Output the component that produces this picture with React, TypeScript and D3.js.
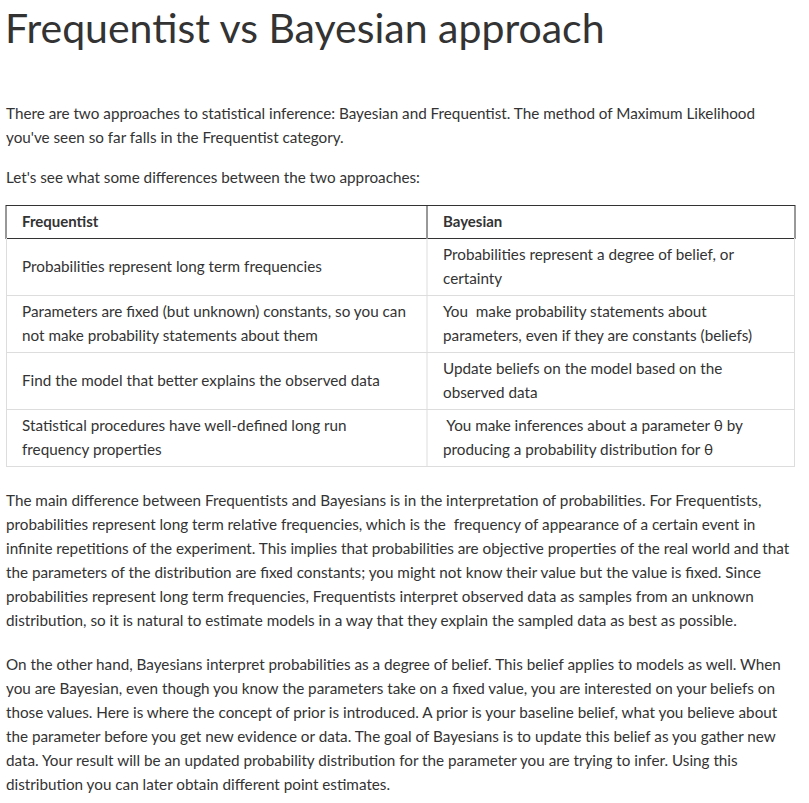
import React, { useRef, useEffect } from 'react';
import * as d3 from 'd3';

const title = 'Frequentist vs Bayesian approach';

const intro = [
  'There are two approaches to statistical inference: Bayesian and Frequentist. The method of Maximum Likelihood',
  "you've seen so far falls in the Frequentist category.",
];
const lead = "Let's see what some differences between the two approaches:";

const headers = ['Frequentist', 'Bayesian'];
const rowsLeft: string[][] = [
  ['Probabilities represent long term frequencies'],
  ['Parameters are fixed (but unknown) constants, so you can', 'not make probability statements about them'],
  ['Find the model that better explains the observed data'],
  ['Statistical procedures have well-defined long run', 'frequency properties'],
];
const rowsRight: string[][] = [
  ['Probabilities represent a degree of belief, or', 'certainty'],
  ['You  make probability statements about', 'parameters, even if they are constants (beliefs)'],
  ['Update beliefs on the model based on the', 'observed data'],
  [' You make inferences about a parameter θ by', 'producing a probability distribution for θ'],
];

const body1 = [
  'The main difference between Frequentists and Bayesians is in the interpretation of probabilities. For Frequentists,',
  'probabilities represent long term relative frequencies, which is the  frequency of appearance of a certain event in',
  'infinite repetitions of the experiment. This implies that probabilities are objective properties of the real world and that',
  'the parameters of the distribution are fixed constants; you might not know their value but the value is fixed. Since',
  'probabilities represent long term frequencies, Frequentists interpret observed data as samples from an unknown',
  'distribution, so it is natural to estimate models in a way that they explain the sampled data as best as possible.',
];
const body2 = [
  'On the other hand, Bayesians interpret probabilities as a degree of belief. This belief applies to models as well. When',
  'you are Bayesian, even though you know the parameters take on a fixed value, you are interested on your beliefs on',
  'those values. Here is where the concept of prior is introduced. A prior is your baseline belief, what you believe about',
  'the parameter before you get new evidence or data. The goal of Bayesians is to update this belief as you gather new',
  'data. Your result will be an updated probability distribution for the parameter you are trying to infer. Using this',
  'distribution you can later obtain different point estimates.',
];

const W = 809;
const H = 803;
const FONT = "'Source Sans Pro', Lato, 'Open Sans', sans-serif";
const INK = '#333';

export default function App() {
  const ref = useRef<SVGSVGElement>(null);

  useEffect(() => {
    const svg = d3.select(ref.current);
    svg.selectAll('*').remove();

    const lines = (ls: string[], x: number, y0: number, step = 24) =>
      ls.forEach((t, i) =>
        svg.append('text').attr('x', x).attr('y', y0 + i * step)
          .attr('fill', INK).style('font-family', FONT).style('font-size', '15.25px')
          .attr('xml:space', 'preserve').text(t));

    svg.append('text').attr('x', 5).attr('y', 43).attr('fill', INK)
      .style('font-family', FONT).style('font-size', '41px').style('font-weight', 400)
      .text(title);

    lines(intro, 6, 119);
    lines([lead], 6, 183);

    // table
    const left = 6, right = 795, mid = 427;
    const rowY = d3.range(5).map(i => 238 + i * 57);
    svg.append('rect').attr('x', left).attr('y', 205.5).attr('width', right - left).attr('height', 33)
      .attr('fill', 'none').attr('stroke', '#333');
    svg.append('line').attr('x1', mid).attr('x2', mid).attr('y1', 205).attr('y2', 238).attr('stroke', '#333');
    headers.forEach((h, i) =>
      svg.append('text').attr('x', i ? 443 : 22).attr('y', 227).attr('fill', INK)
        .style('font-family', FONT).style('font-size', '15px').style('font-weight', 700).text(h));

    const g = '#ddd';
    rowY.slice(1).forEach(y =>
      svg.append('line').attr('x1', left).attr('x2', right).attr('y1', y + 0.5).attr('y2', y + 0.5).attr('stroke', g));
    [left + 0.5, mid, right - 0.5].forEach(x =>
      svg.append('line').attr('x1', x).attr('x2', x).attr('y1', 238).attr('y2', rowY[4]).attr('stroke', g));

    [rowsLeft, rowsRight].forEach((col, ci) =>
      col.forEach((cell, ri) => {
        const cy = rowY[ri] + 28.5;
        const y0 = cy + 5 - ((cell.length - 1) * 24) / 2;
        lines(cell, ci ? 443 : 22, y0);
      }));

    lines(body1, 6, 506);
    lines(body2, 6, 670);
  }, []);

  return (
    <svg ref={ref} width={W} height={H} viewBox={`0 0 ${W} ${H}`}
      style={{ position: 'absolute', left: 0, top: 0, background: '#fff' }} />
  );
}
